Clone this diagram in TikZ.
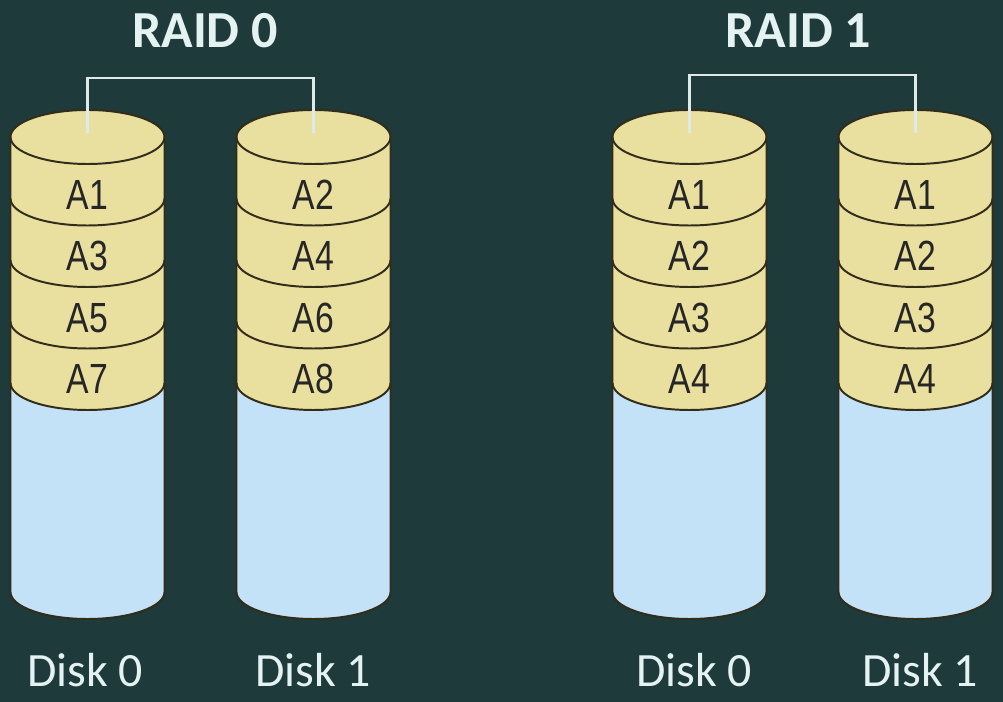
\documentclass[tikz,border=0pt]{standalone}
\usepackage{fontspec}
\setmainfont{Carlito}
\newfontfamily\blockfont{Liberation Sans}
\usetikzlibrary{positioning,calc}
\definecolor{bgteal}{RGB}{30,58,58}
\definecolor{bandyellow}{RGB}{233,224,160}
\definecolor{emptyblue}{RGB}{196,226,247}
\definecolor{rimdark}{RGB}{50,44,26}
\definecolor{linegray}{RGB}{222,234,234}
\definecolor{titlewhite}{RGB}{228,242,242}

\newcommand{\blocktext}[1]{\scalebox{0.8}[1]{#1}}
% one disk: #1 = x of its axis, #2 = name of the top point
\newcommand{\drawdisk}[2]{%
  \fill[emptyblue](#1-7.7,31.9)--(#1-7.7,11)arc[start angle=180,end angle=360,x radius=7.7,y radius=2.7]
    --(#1+7.7,31.9)arc[start angle=0,end angle=-180,x radius=7.7,y radius=2.7]--cycle;
  \fill[bandyellow](#1-7.7,56.5)arc[start angle=180,end angle=0,x radius=7.7,y radius=2.7]
    --(#1+7.7,31.9)arc[start angle=0,end angle=-180,x radius=7.7,y radius=2.7]--cycle;
  \draw[rim](#1,56.5)ellipse[x radius=7.7,y radius=2.7];
  \foreach \k in {1,...,4}
    \draw[rim](#1+7.7,56.5-6.15*\k)arc[start angle=0,end angle=-180,x radius=7.7,y radius=2.7];
  \draw[rim](#1-7.7,56.5)--(#1-7.7,11)arc[start angle=180,end angle=360,x radius=7.7,y radius=2.7]--(#1+7.7,56.5);
  \coordinate(#2) at(#1,56.9);
}

\begin{document}
\begin{tikzpicture}[
  x=0.25cm,y=0.25cm,
  rim/.style={draw=rimdark,line width=1.4pt},
  block/.style={inner sep=0pt,text=black!85,font=\blockfont\fontsize{30}{30}\selectfont},
  disklabel/.style={inner sep=0pt,text=titlewhite,font=\fontsize{34}{34}\selectfont},
  raidtitle/.style={inner sep=0pt,text=titlewhite,font=\bfseries\fontsize{37}{37}\selectfont},
  bracket/.style={draw=linegray,line width=2pt}]
  \fill[bgteal](0,0)rectangle(100.3,70.2);
  \useasboundingbox(0,0)rectangle(100.3,70.2);
  \drawdisk{8.75}{r0d0}
  \drawdisk{31.35}{r0d1}
  \drawdisk{68.95}{r1d0}
  \drawdisk{91.55}{r1d1}
  \node[raidtitle](r0) at(20.5,67.15){RAID 0};
  \node[raidtitle](r1) at(79.85,67.15){RAID 1};
  \draw[bracket](r0d0)--++(0,5.5)-|(r0d1);
  \draw[bracket](r1d0)--++(0,5.8)-|(r1d1);
  \node[block](r0a1) at(8.75,50.725){\blocktext{A1}};
  \node[block](r0a3) at(8.75,44.575){\blocktext{A3}};
  \node[block](r0a5) at(8.75,38.425){\blocktext{A5}};
  \node[block](r0a7) at(8.75,32.275){\blocktext{A7}};
  \node[block](r0a2) at(31.35,50.725){\blocktext{A2}};
  \node[block](r0a4) at(31.35,44.575){\blocktext{A4}};
  \node[block](r0a6) at(31.35,38.425){\blocktext{A6}};
  \node[block](r0a8) at(31.35,32.275){\blocktext{A8}};
  \node[block](r1a1) at(68.95,50.725){\blocktext{A1}};
  \node[block](r1a2) at(68.95,44.575){\blocktext{A2}};
  \node[block](r1a3) at(68.95,38.425){\blocktext{A3}};
  \node[block](r1a4) at(68.95,32.275){\blocktext{A4}};
  \node[block](r1b1) at(91.55,50.725){\blocktext{A1}};
  \node[block](r1b2) at(91.55,44.575){\blocktext{A2}};
  \node[block](r1b3) at(91.55,38.425){\blocktext{A3}};
  \node[block](r1b4) at(91.55,32.275){\blocktext{A4}};
  \node[disklabel](r0n0) at(8.5,3.2){Disk 0};
  \node[disklabel](r0n1) at(31.3,3.2){Disk 1};
  \node[disklabel](r1n0) at(69.4,3.2){Disk 0};
  \node[disklabel](r1n1) at(92.0,3.2){Disk 1};
\end{tikzpicture}
\end{document}
